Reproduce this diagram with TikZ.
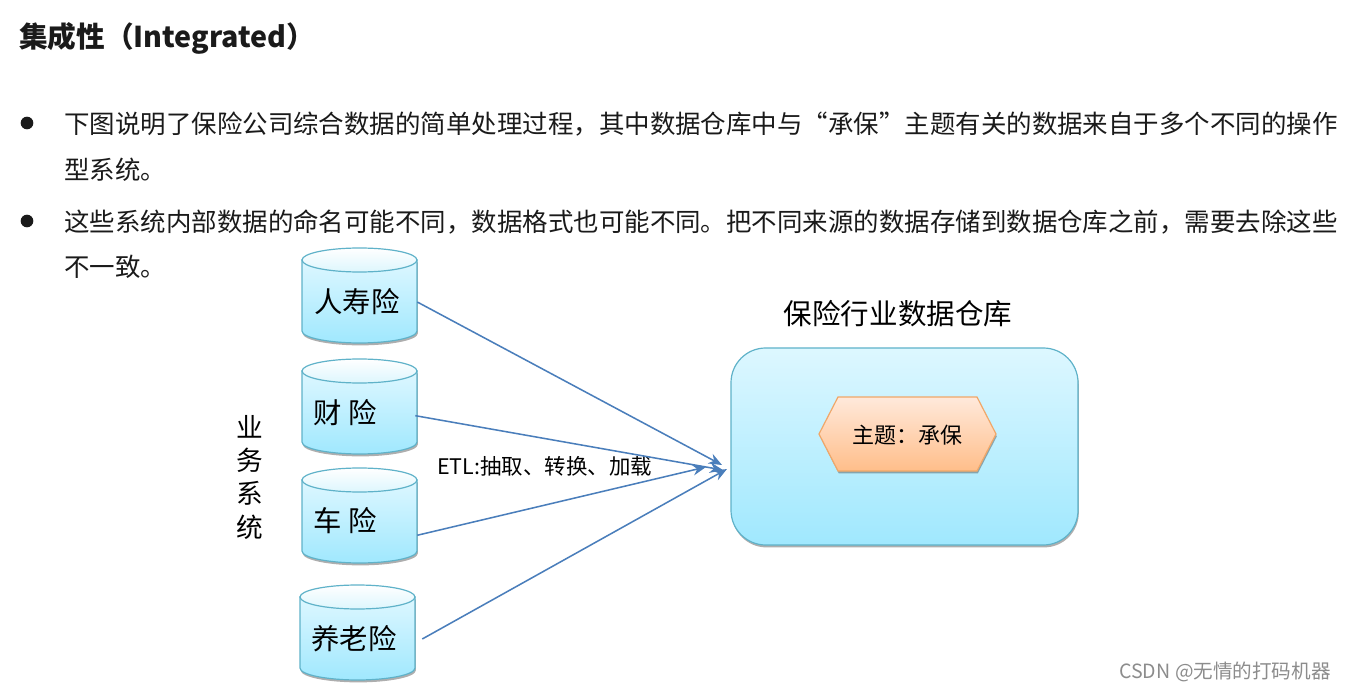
\documentclass[tikz,border=0pt]{standalone}
\usepackage{fontspec}
\setmainfont{Noto Sans CJK SC}
\usetikzlibrary{shadows,arrows.meta}
\definecolor{ink}{HTML}{1A1A1A}
\definecolor{flow}{HTML}{4A7EBB}
\tikzset{
  x=0.75pt,y=-0.75pt,
  bodytext/.style={anchor=west,inner sep=0,font=\fontsize{19.1}{23}\selectfont,text=ink},
  cylbody/.style={draw=cyl,line width=0.9pt,top color=cylA,bottom color=cylB,shading angle=0},
  cyltop/.style={draw=cyl,line width=0.9pt,top color=white,bottom color=cylT},
  softshadow/.style={drop shadow={shadow xshift=0.6pt,shadow yshift=-1.8pt,opacity=.45,fill=black!70}},
  cyllabel/.style={inner sep=0,font=\fontsize{21.3}{25}\selectfont,text=black},
  flowline/.style={draw=flow,line width=1.15pt,-{Stealth[length=10pt,width=8pt]}},
}
\definecolor{cyl}{HTML}{5FB2C9}
\definecolor{cylA}{HTML}{DDF7FF}
\definecolor{cylB}{HTML}{A0E8FE}
\definecolor{cylT}{HTML}{DDF6FD}
\definecolor{hexA}{HTML}{FFE9DB}
\definecolor{hexB}{HTML}{FFBE8A}
\definecolor{hexL}{HTML}{F0A769}
\newcommand{\mycyl}[4]{% left x, top y, name-free shape
  \path[cylbody,softshadow] (#1,#2+12) -- (#1,#3-12)
     .. controls (#1,#3-5) and (#1+28,#3) .. (#1+57.5,#3)
     .. controls (#1+87,#3) and (#1+115,#3-5) .. (#1+115,#3-12)
     -- (#1+115,#2+12) -- cycle;
  \path[cyltop] (#1+57.5,#2+12) ellipse [x radius=57.5,y radius=12];
}
\begin{document}
\begin{tikzpicture}
\useasboundingbox (0,0) rectangle (1345,691);
\node[anchor=west,inner sep=0,font=\fontsize{21.5}{26}\selectfont\bfseries,text=ink] (title) at (19,38) {集成性（Integrated）};
\node[circle,fill=ink,inner sep=0,minimum size=9.5pt] (b1) at (27,123) {};
\node[circle,fill=ink,inner sep=0,minimum size=9.5pt] (b2) at (27,221) {};
\node[bodytext] (l1) at (64,124) {下图说明了保险公司综合数据的简单处理过程，其中数据仓库中与“承保”主题有关的数据来自于多个不同的操作};
\node[bodytext] (l2) at (64,170) {型系统。};
\node[bodytext] (l3) at (64,222) {这些系统内部数据的命名可能不同，数据格式也可能不同。把不同来源的数据存储到数据仓库之前，需要去除这些};
\node[bodytext] (l4) at (64,267) {不一致。};

\mycyl{302}{248}{343}{}
\mycyl{302}{359}{454}{}
\mycyl{302}{468}{563}{}
\mycyl{300}{585}{680}{}
\node[cyllabel,minimum width=120*0.75pt] (c1) at (357,302) {人寿险};
\node[cyllabel,minimum width=140*0.75pt] (c2) at (345,413) {财 险};
\node[cyllabel,minimum width=144*0.75pt,minimum height=28*0.75pt] (c3) at (345,521) {车 险};
\node[cyllabel,minimum width=136*0.75pt] (c4) at (354,639) {养老险};

\node[align=center,inner sep=0,font=\fontsize{20}{25}\selectfont,text=black] (ywxt) at (250,477) {业\\务\\系\\统};
\node[inner sep=0,font=\fontsize{16.1}{20}\selectfont,text=black,anchor=west] (etl) at (437,466) {ETL:抽取、转换、加载};
\node[inner sep=0,font=\fontsize{21.4}{26}\selectfont,text=black] (dwt) at (898,314) {保险行业数据仓库};

\path[draw=cyl,line width=0.9pt,top color=cylA,bottom color=cylB,rounded corners=26pt,softshadow] (731,348) rectangle (1078,545);
\path[draw=hexL,line width=0.9pt,top color=hexA,bottom color=hexB,softshadow] (819,434) -- (838,397) -- (977,397) -- (996,434) -- (977,471) -- (838,471) -- cycle;
\node[inner sep=0,font=\fontsize{16.5}{20}\selectfont,text=black] (topic) at (907,435) {主题：承保};

\coordinate (t1) at (722,465);
\coordinate (t2) at (723,470);
\coordinate (t3) at (706,467);
\coordinate (t4) at (727,469);
\draw[flowline] (c1.east) -- (t1);
\draw[flowline] ([yshift=-2pt]c2.east) -- (t2);
\draw[flowline] (c3.south east) -- (t3);
\draw[flowline] (c4.east) -- (t4);

\node[anchor=east,inner sep=0,font=\fontsize{14.7}{18}\selectfont,text=black!45] (wm) at (1331,672) {CSDN @无情的打码机器};
\end{tikzpicture}
\end{document}
